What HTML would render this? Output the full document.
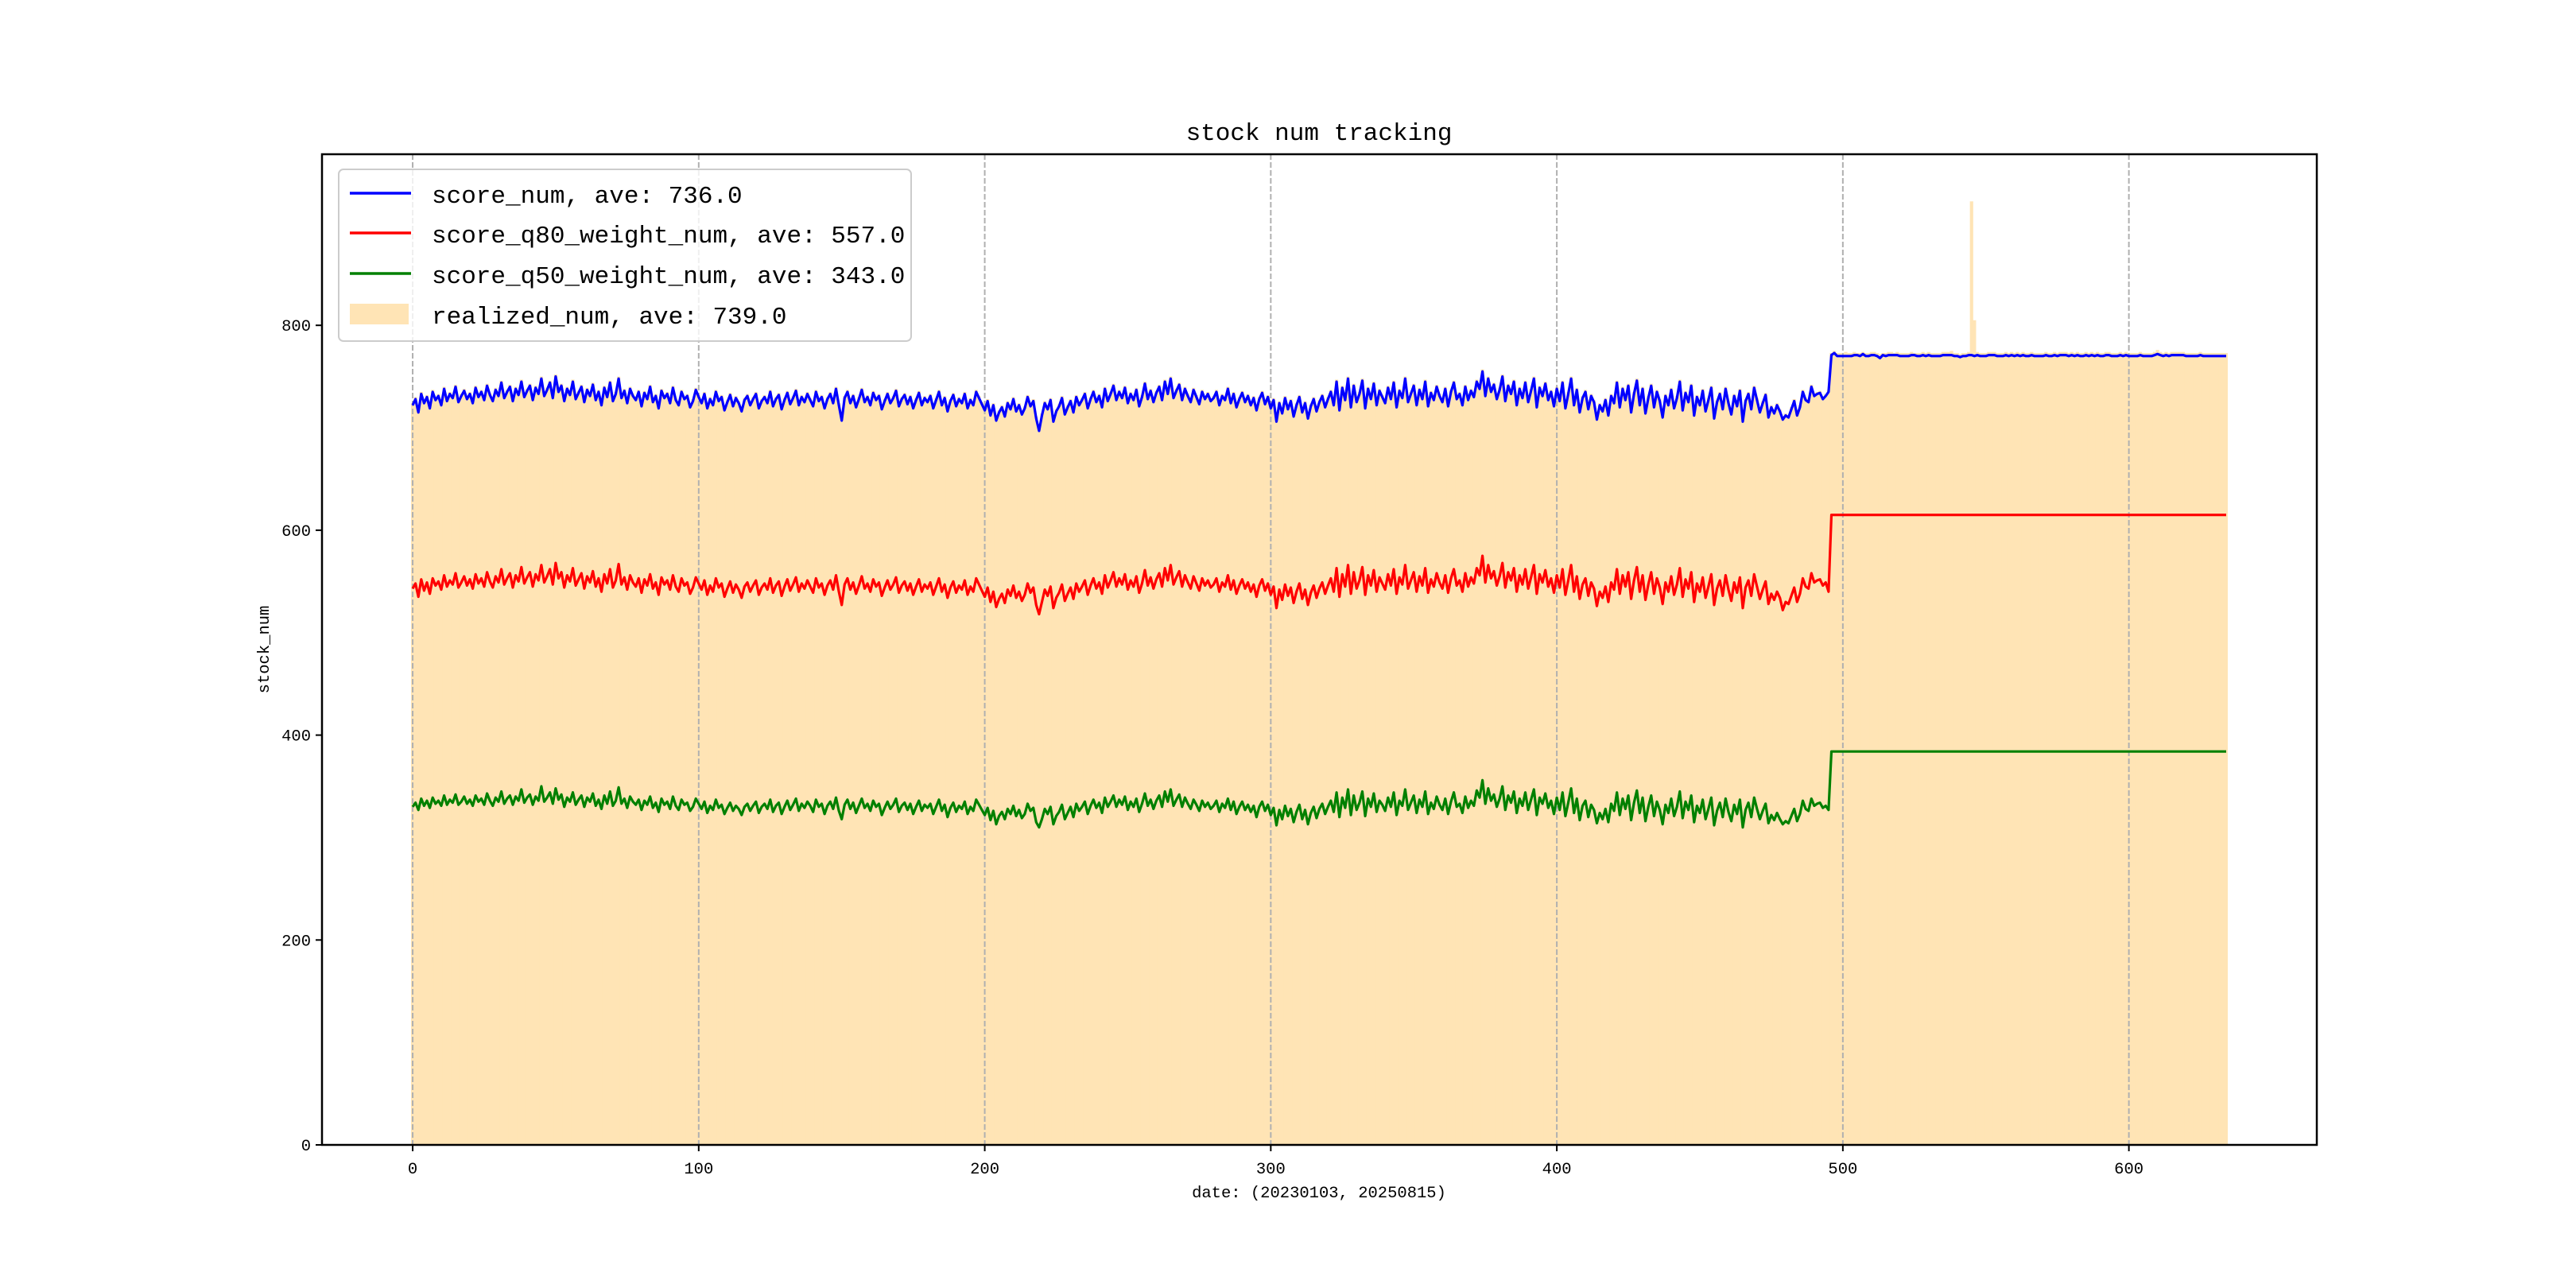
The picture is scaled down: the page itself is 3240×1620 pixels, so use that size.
<!DOCTYPE html>
<html><head><meta charset="utf-8"><style>
html,body{margin:0;padding:0;background:#fff;}
svg{display:block;font-family:"Liberation Mono","WenQuanYi Zen Hei",monospace;}
</style></head><body>
<svg id="chart" width="3240" height="1620" viewBox="0 0 3240 1620" xmlns="http://www.w3.org/2000/svg">
<rect width="3240" height="1620" fill="#fff"/>
<g id="bars"></g>
<g id="grid"></g>
<g id="lines"></g>
<rect x="405" y="194" width="2509" height="1246" fill="none" stroke="#000" stroke-width="2.5"/>
<g id="xticks"></g>
<g id="yticks"></g>
<text x="1659" y="176" font-size="31" text-anchor="middle">stock num tracking</text>
<text x="1659" y="1506" font-size="20.5" text-anchor="middle">date: (20230103, 20250815)</text>
<text transform="translate(338,817) rotate(-90)" font-size="20.5" text-anchor="middle">stock_num</text>
<g>
<rect x="426" y="213" width="720" height="216" rx="6" fill="#fff" fill-opacity="0.8" stroke="#ccc" stroke-width="2"/>
<line x1="440" y1="243" x2="517" y2="243" stroke="#0000ff" stroke-width="3.5"/>
<text x="543" y="255" font-size="31">score_num, ave: 736.0</text>
<line x1="440" y1="293" x2="517" y2="293" stroke="#ff0000" stroke-width="3.5"/>
<text x="543" y="305" font-size="31">score_q80_weight_num, ave: 557.0</text>
<line x1="440" y1="344" x2="517" y2="344" stroke="#008000" stroke-width="3.5"/>
<text x="543" y="356" font-size="31">score_q50_weight_num, ave: 343.0</text>
<rect x="440" y="382" width="74" height="26" fill="#ffe4b5"/>
<text x="543" y="407" font-size="31">realized_num, ave: 739.0</text>
</g>
</svg>
<script>
const xTicks=[0,100,200,300,400,500,600];
const yTicks=[0,200,400,600,800];
const scoreNum=[722,728,715,733,724,730,719,735,727,731,722,738,726,733,729,740,725,731,736,728,
733,724,739,730,735,727,741,732,726,737,731,744,729,735,740,726,738,732,745,730,
736,741,727,739,733,748,731,737,744,729,750,735,741,726,738,732,745,728,734,740,
725,737,731,742,727,735,722,739,730,744,726,733,748,729,736,724,738,731,727,735,
721,734,728,740,725,731,719,736,729,733,724,739,727,722,735,728,731,720,726,737,
730,724,733,719,728,722,735,726,730,717,725,732,721,729,724,716,727,731,722,728,
733,719,726,730,724,735,721,728,732,718,727,734,723,729,736,722,730,725,733,727,
721,735,726,730,719,728,733,724,738,722,707,729,735,724,731,720,728,737,725,730,
722,734,727,731,718,726,733,724,729,736,721,728,732,723,730,719,727,734,722,729,
725,731,719,727,735,722,729,716,726,732,721,728,724,733,719,727,722,735,729,723,
717,726,712,722,707,715,720,711,724,718,728,716,722,713,719,730,721,726,709,697,
712,724,718,727,706,716,721,729,713,720,726,715,730,722,727,733,719,728,735,725,
731,720,738,726,733,741,727,735,729,739,724,733,727,737,721,730,743,728,736,725,
734,740,727,745,733,748,729,736,742,727,738,731,725,737,730,723,735,728,733,726,
729,735,722,731,727,738,724,733,720,728,734,725,731,722,729,717,728,734,723,730,
719,727,706,724,714,729,718,726,711,722,730,715,724,709,721,728,716,725,731,720,
728,735,722,745,717,739,727,748,720,741,725,733,746,719,738,728,743,722,736,730,
724,739,728,744,720,736,729,748,725,733,741,722,737,728,745,721,734,727,740,731,
725,738,721,735,744,728,733,722,740,727,736,730,745,738,755,731,748,735,742,728,
737,750,726,741,733,745,722,738,729,744,725,736,748,720,739,731,743,727,735,721,
738,726,744,719,733,748,722,737,715,729,735,718,731,725,708,722,716,727,712,731,
724,744,720,738,727,741,715,733,746,722,738,714,729,741,720,735,726,710,731,722,
737,719,729,745,717,734,725,741,712,730,722,736,716,727,739,709,725,733,718,738,
724,713,731,721,736,706,726,733,718,739,727,715,724,732,710,720,714,722,716,708,
712,710,718,726,712,720,735,727,725,740,731,733,734,728,731,735,
771,773,770,770,770,770,770,770,771,771,770,772,770,770,771,771,770,768,771,770,
771,771,771,771,770,770,770,770,771,771,770,770,771,770,771,770,770,770,770,771,
771,771,771,770,770,769,770,770,771,771,770,771,770,770,770,771,771,771,770,770,
770,771,770,771,770,771,770,771,770,770,771,770,770,770,770,771,770,770,771,770,
771,771,771,770,771,770,771,770,770,771,770,771,770,771,770,770,771,771,770,770,
770,771,770,771,770,770,770,770,771,770,770,770,770,771,772,771,770,771,770,771,
771,771,771,771,770,770,770,770,770,771,770,770,770,770,770,770,770,770,770];
const q80Num=[543,548,535,552,541,549,538,553,546,550,542,556,545,551,547,558,544,549,555,546,
552,543,557,548,553,545,559,550,544,555,549,562,547,553,558,544,556,550,564,548,
554,559,545,557,551,566,549,555,562,547,568,553,559,544,556,550,563,546,552,558,
543,555,549,560,545,553,540,557,548,562,544,551,567,547,554,542,556,549,545,553,
539,552,546,557,543,549,537,554,547,551,542,556,545,540,553,546,549,538,544,554,
548,542,551,537,546,540,553,544,548,535,543,550,539,547,542,534,545,549,540,546,
551,537,544,548,542,553,539,546,550,536,545,552,541,547,554,540,548,543,551,545,
539,553,544,548,537,546,551,542,556,540,527,547,553,542,549,538,546,555,543,548,
540,552,545,549,536,544,551,542,547,554,539,546,550,541,548,537,545,552,540,547,
543,549,537,545,553,540,547,534,544,550,539,546,542,551,537,545,540,553,547,541,
535,544,530,540,525,533,538,529,542,536,546,534,540,531,537,548,539,544,527,518,
530,542,536,545,524,534,539,547,531,538,544,533,548,540,545,551,537,546,553,543,
549,538,556,544,551,559,545,553,547,557,542,551,545,555,539,548,561,546,554,543,
552,558,545,563,551,566,547,554,560,545,556,549,543,555,548,541,553,546,551,544,
547,553,540,549,545,556,542,551,538,546,552,543,549,540,547,535,546,552,541,548,
537,545,524,542,532,547,536,544,529,540,548,533,542,527,539,546,534,543,549,538,
546,553,540,563,535,557,545,566,538,559,543,551,564,537,556,546,561,540,554,548,
542,557,546,562,538,554,547,566,543,551,559,540,555,546,563,539,552,545,558,549,
543,556,539,553,562,546,551,540,558,545,554,548,563,556,575,549,566,553,560,546,
555,568,544,559,551,563,540,556,547,562,543,554,566,538,557,549,561,545,553,539,
556,544,562,537,551,566,540,555,533,547,553,536,549,543,526,540,534,545,530,549,
542,562,538,556,545,559,533,551,564,540,556,532,547,559,538,553,544,528,549,540,
555,537,547,563,535,552,543,559,530,548,540,554,534,545,557,527,543,551,536,556,
542,531,549,539,554,524,544,551,536,557,545,533,542,550,528,538,532,540,534,522,
530,528,536,544,530,538,553,545,543,558,549,551,552,546,549,540,
615,615,615,615,615,615,615,615,615,615,615,615,615,615,615,615,615,615,615,615,
615,615,615,615,615,615,615,615,615,615,615,615,615,615,615,615,615,615,615,615,
615,615,615,615,615,615,615,615,615,615,615,615,615,615,615,615,615,615,615,615,
615,615,615,615,615,615,615,615,615,615,615,615,615,615,615,615,615,615,615,615,
615,615,615,615,615,615,615,615,615,615,615,615,615,615,615,615,615,615,615,615,
615,615,615,615,615,615,615,615,615,615,615,615,615,615,615,615,615,615,615,615,
615,615,615,615,615,615,615,615,615,615,615,615,615,615,615,615,615,615,615];
const q50Num=[330,334,327,338,331,336,329,339,333,336,331,341,332,337,334,342,332,335,340,333,
337,331,341,335,338,332,343,336,331,339,335,345,333,338,341,332,340,336,347,334,
339,342,332,340,336,350,335,339,344,333,348,337,342,330,339,335,344,332,337,341,
330,339,335,343,331,337,328,341,333,345,331,336,349,333,338,329,340,335,332,337,
327,336,332,340,329,334,325,338,332,335,328,340,331,327,337,332,334,326,330,338,
333,328,335,324,331,327,337,329,332,323,329,334,326,331,328,322,330,333,326,331,
335,324,330,333,328,337,325,331,334,323,330,336,327,332,338,326,333,329,335,331,
325,337,330,333,323,331,335,328,339,326,318,332,337,328,334,324,331,338,329,333,
326,336,330,333,322,329,335,328,332,338,325,331,334,327,333,323,330,336,326,332,
329,333,323,330,337,326,332,320,329,334,325,331,328,335,323,330,326,337,332,327,
322,329,317,326,313,321,325,318,328,323,331,321,327,319,323,333,326,329,315,310,
318,328,323,330,313,321,325,332,318,324,330,320,333,326,330,335,323,331,337,329,
334,324,339,330,335,341,330,337,332,340,327,335,330,338,325,333,343,331,337,328,
336,341,330,345,335,347,331,337,342,330,339,333,328,337,332,326,336,330,334,328,
331,336,325,333,329,338,327,335,323,330,335,327,332,325,331,320,330,335,326,332,
322,329,312,327,318,331,321,328,315,325,332,318,327,313,324,330,319,328,333,323,
330,336,325,344,320,339,329,347,322,341,327,334,345,321,338,330,343,325,336,332,
326,339,330,344,322,336,331,347,327,334,341,324,337,330,345,323,334,328,340,332,
327,338,323,335,344,330,333,324,340,329,336,331,346,339,356,333,348,336,342,330,
338,350,327,341,334,345,324,338,331,344,327,337,347,322,339,333,343,329,336,323,
339,327,344,321,334,348,324,338,317,331,336,320,332,327,314,324,318,328,315,333,
326,344,322,338,328,341,317,334,346,324,339,316,330,341,321,335,327,313,332,324,
338,321,330,345,319,335,327,341,315,331,324,337,318,328,339,312,326,334,320,338,
325,316,332,323,337,310,327,334,320,339,328,318,326,333,314,322,317,324,318,313,
316,314,321,328,316,323,336,328,326,338,331,333,334,329,331,327,
384,384,384,384,384,384,384,384,384,384,384,384,384,384,384,384,384,384,384,384,
384,384,384,384,384,384,384,384,384,384,384,384,384,384,384,384,384,384,384,384,
384,384,384,384,384,384,384,384,384,384,384,384,384,384,384,384,384,384,384,384,
384,384,384,384,384,384,384,384,384,384,384,384,384,384,384,384,384,384,384,384,
384,384,384,384,384,384,384,384,384,384,384,384,384,384,384,384,384,384,384,384,
384,384,384,384,384,384,384,384,384,384,384,384,384,384,384,384,384,384,384,384,
384,384,384,384,384,384,384,384,384,384,384,384,384,384,384,384,384,384,384];
const realizedNum=[724,730,717,735,726,732,721,737,729,733,724,740,728,735,731,742,727,733,738,730,
735,726,741,732,737,729,743,734,728,739,733,746,731,737,742,728,740,734,747,732,
738,743,729,741,735,750,733,739,746,731,752,737,743,728,740,734,747,730,736,742,
727,739,733,744,729,737,724,741,732,746,728,735,750,731,738,726,740,733,729,737,
723,736,730,742,727,733,721,738,731,735,726,741,729,724,737,730,733,722,728,739,
732,726,735,721,730,724,737,728,732,719,727,734,723,731,726,718,729,733,724,730,
735,721,728,732,726,737,723,730,734,720,729,736,725,731,738,724,732,727,735,729,
723,737,728,732,721,730,735,726,740,724,709,731,737,726,733,722,730,739,727,732,
724,736,729,733,720,728,735,726,731,738,723,730,734,725,732,721,729,736,724,731,
727,733,721,729,737,724,731,718,728,734,723,730,726,735,721,729,724,737,731,725,
719,728,714,724,709,717,722,713,726,720,730,718,724,715,721,732,723,728,711,699,
714,726,720,729,708,718,723,731,715,722,728,717,732,724,729,735,721,730,737,727,
733,722,740,728,735,743,729,737,731,741,726,735,729,739,723,732,745,730,738,727,
736,742,729,747,735,750,731,738,744,729,740,733,727,739,732,725,737,730,735,728,
731,737,724,733,729,740,726,735,722,730,736,727,733,724,731,719,730,736,725,732,
721,729,708,726,716,731,720,728,713,724,732,717,726,711,723,730,718,727,733,722,
730,737,724,747,719,741,729,750,722,743,727,735,748,721,740,730,745,724,738,732,
726,741,730,746,722,738,731,750,727,735,743,724,739,730,747,723,736,729,742,733,
727,740,723,737,746,730,735,724,742,729,738,732,747,740,757,733,750,737,744,730,
739,752,728,743,735,747,724,740,731,746,727,738,750,722,741,733,745,729,737,723,
740,728,746,721,735,750,724,739,717,731,737,720,733,727,710,724,718,729,714,733,
726,746,722,740,729,743,717,735,748,724,740,716,731,743,722,737,728,712,733,724,
739,721,731,747,719,736,727,743,714,732,724,738,718,729,741,711,727,735,720,740,
726,715,733,723,738,708,728,735,720,741,729,717,726,734,712,722,716,724,718,710,
714,712,720,728,714,722,737,729,727,742,733,735,736,730,733,737,
773,775,773,773,773,774,773,773,774,773,773,774,773,773,774,774,773,772,773,773,
774,774,773,774,773,773,773,773,774,773,773,773,774,773,774,773,773,773,773,774,
774,774,775,773,773,772,773,773,774,921,805,774,773,773,773,774,774,774,773,773,
773,774,773,774,773,774,773,774,773,773,774,773,773,773,773,774,773,773,774,773,
774,774,774,773,774,773,774,773,773,774,773,774,773,774,773,773,774,774,773,773,
773,774,773,774,773,773,773,773,774,773,773,773,773,774,776,774,773,774,773,774,
774,774,774,774,773,773,773,773,773,774,773,773,773,773,773,773,773,773,773];

const PL=405,PR=2914,PT=194,PB=1440;
const XMIN=-31.7,XMAX=665.7,YMIN=0,YMAX=967;
function sx(v){return PL+(v-XMIN)/(XMAX-XMIN)*(PR-PL);}
function sy(v){return PB-(v-YMIN)/(YMAX-YMIN)*(PB-PT);}
const NS='http://www.w3.org/2000/svg';
function mk(tag,attrs,parent){const e=document.createElementNS(NS,tag);for(const k in attrs)e.setAttribute(k,attrs[k]);parent.appendChild(e);return e;}

const bars=document.getElementById('bars');
const bw=sx(1)-sx(0);
realizedNum.forEach((v,i)=>{
  const r=mk('rect',{x:sx(i)-bw/2-0.3,y:sy(v),width:bw+0.6,height:sy(0)-sy(v),fill:'#ffe4b5'},bars);
  
  
});

const grid=document.getElementById('grid');
const xt=document.getElementById('xticks');
xTicks.forEach(t=>{
  const g=mk('line',{x1:sx(t),x2:sx(t),y1:PT,y2:PB,stroke:'#b0b0b0','stroke-width':2,'stroke-dasharray':'7,3'},grid);
  
  
  const tk=mk('line',{x1:sx(t),x2:sx(t),y1:PB,y2:PB+8,stroke:'#000','stroke-width':2},xt);
  
  
  const lb=mk('text',{x:sx(t),y:PB+36,'font-size':20.5,'text-anchor':'middle'},xt);
  lb.textContent=String(t);
  
  
});
const yt=document.getElementById('yticks');
yTicks.forEach(t=>{
  const tk=mk('line',{x1:PL-8,x2:PL,y1:sy(t),y2:sy(t),stroke:'#000','stroke-width':2},yt);
  
  
  const lb=mk('text',{x:PL-14,y:sy(t)+7,'font-size':20.5,'text-anchor':'end'},yt);
  lb.textContent=String(t);
  
  
});

const lines=document.getElementById('lines');
function drawLine(arr,color,name){
  const d=arr.map((v,i)=>(i?'L':'M')+sx(i).toFixed(1)+','+sy(v).toFixed(1)).join('');
  const p=mk('path',{d:d,fill:'none',stroke:color,'stroke-width':3.2,'stroke-linejoin':'round'},lines);
  
  
}
drawLine(scoreNum,'#0000ff','score-num-line');
drawLine(q80Num,'#ff0000','score-q80-line');
drawLine(q50Num,'#008000','score-q50-line');
</script>
</body></html>
